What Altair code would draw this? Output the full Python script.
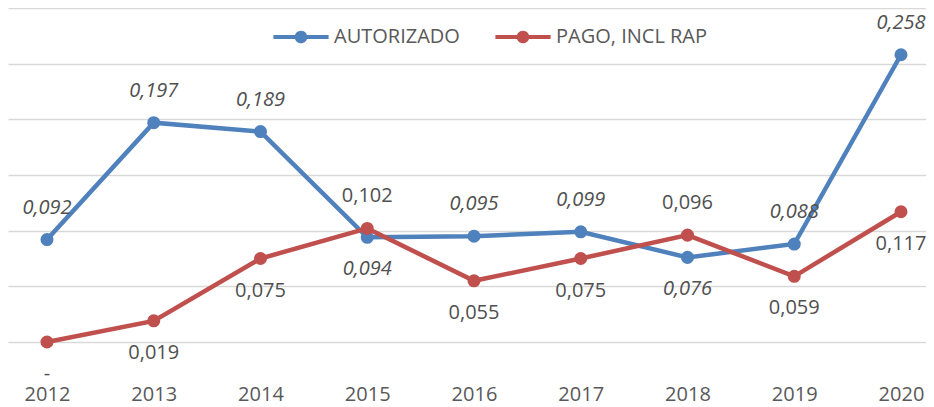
import altair as alt
import pandas as pd

years = [2012, 2013, 2014, 2015, 2016, 2017, 2018, 2019, 2020]
autorizado = [0.092, 0.197, 0.189, 0.094, 0.095, 0.099, 0.076, 0.088, 0.258]
pago = [0.0, 0.019, 0.075, 0.102, 0.055, 0.075, 0.096, 0.059, 0.117]
series_names = ["AUTORIZADO", "PAGO, INCL RAP"]
colors = ["#4F81BD", "#C0504D"]
grid_values = [0.0, 0.05, 0.10, 0.15, 0.20, 0.25, 0.30]

rows = []
for i, yr in enumerate(years):
    a, p = autorizado[i], pago[i]
    for name, v, other in ((series_names[0], a, p), (series_names[1], p, a)):
        rows.append(dict(
            year=yr, serie=name, value=v,
            label="-" if v == 0 else f"{v:.3f}".replace(".", ","),
            pos="above" if v >= other else "below",
        ))
df = pd.DataFrame(rows)

FONT = "Open Sans"
TXT = "#595959"

x = alt.X("year:Q",
          scale=alt.Scale(domain=[2011.6347, 2020.2342], nice=False, zero=False),
          axis=alt.Axis(values=years, format="d", title=None, grid=False, ticks=False,
                        domain=False, labelFontSize=20, labelColor=TXT, labelFont=FONT,
                        labelPadding=42, labelFlush=False, labelOverlap=False))
y = alt.Y("value:Q",
          scale=alt.Scale(domain=[0, 0.3], nice=False),
          axis=alt.Axis(values=grid_values, labels=False, ticks=False, domain=False,
                        title=None, gridColor="#d9d9d9", gridWidth=1.5))
cscale = alt.Scale(domain=series_names, range=colors)

legend_symbol = ("M-0.92,-0.07H0.92V0.07H-0.92Z "
                 "M-0.21,0A0.21,0.21 0 1,1 0.21,0A0.21,0.21 0 1,1 -0.21,0Z")
legend = alt.Legend(
    title=None, orient="none", legendX=263, legendY=-1, direction="horizontal",
    symbolType=legend_symbol, symbolSize=3600, symbolStrokeWidth=0, symbolOpacity=1,
    symbolFillColor="#4F81BD",
    labelFontSize=20, labelFont=FONT, labelColor=TXT, labelOffset=3,
    columnPadding=33, padding=0)

base = alt.Chart(df).encode(x=x, y=y)

lines = base.mark_line(strokeWidth=4.5).encode(
    color=alt.Color("serie:N", scale=cscale, legend=legend),
)
points = base.mark_point(filled=True, size=170, opacity=1).encode(
    color=alt.Color("serie:N", scale=cscale, legend=legend),
)


def labels(serie, pos, italic):
    return base.transform_filter(
        (alt.datum.serie == serie) & (alt.datum.pos == pos)
    ).mark_text(
        dy=-32 if pos == "above" else 32, fontSize=20, font=FONT,
        fontStyle="italic" if italic else "normal", color="#505050",
    ).encode(text="label:N")


chart = alt.layer(
    lines, points,
    labels(series_names[0], "above", True), labels(series_names[0], "below", True),
    labels(series_names[1], "above", False), labels(series_names[1], "below", False),
).properties(
    width=918, height=334,
    autosize=alt.AutoSizeParams(type="none"),
    padding={"left": 0, "top": 0, "right": 0, "bottom": 66},
).configure_view(stroke=None)

chart.save("out.html", embed_options={"renderer": "svg", "actions": False})
